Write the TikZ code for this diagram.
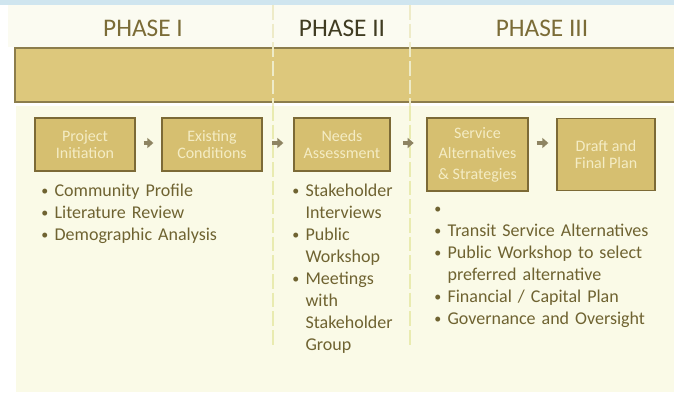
\documentclass[tikz,border=0pt]{standalone}
\usepackage{fontspec}
\setmainfont{Carlito}
\usetikzlibrary{arrows.meta,positioning}
\tikzset {>={Triangle[length=4.5pt,width=7.5pt]}}

\definecolor{topblue}{HTML}{CFE5EF}
\definecolor{headcream}{HTML}{FBFBF1}
\definecolor{panelcream}{HTML}{FAFAE7}
\definecolor{bandtan}{HTML}{DDC87C}
\definecolor{bandedge}{HTML}{8C7D4C}
\definecolor{boxtan}{HTML}{D6BF70}
\definecolor{boxedge}{HTML}{7C6A36}
\definecolor{boxtext}{HTML}{F4ECC4}
\definecolor{sepgreen}{HTML}{E9EBB0}
\definecolor{sepfaint}{HTML}{EEEBC8}
\definecolor{arrowgrey}{HTML}{8E8462}
\definecolor{listolive}{HTML}{6F6331}
\definecolor{headolive}{HTML}{7B6C37}
\definecolor{headdark}{HTML}{403C22}

\tikzset{
  phasehead/.style={font=\fontsize{19}{21}\selectfont, text=headolive},
  stagebox/.style={draw=boxedge, fill=boxtan, line width=1pt, text=boxtext,
    align=center, inner sep=2pt, font=\fontsize{12}{12.5}\selectfont},
  stagearrow/.style={->, draw=arrowgrey, fill=arrowgrey, line width=2.6pt,
    shorten <=6pt, shorten >=6pt},
  sepline/.style={draw=sepgreen, line width=2.2pt, dash pattern=on 11pt off 3pt},
  bulletlist/.style={anchor=north west, inner sep=0pt, align=left, text=listolive,
    font=\fontsize{13.5}{16.5}\selectfont}
}

% one bullet line, wrapped lines hang under the text
\newcommand{\bitem}[1]{\par\noindent\hangindent=10pt\hangafter=1%
  \strut\makebox[10pt][l]{\raisebox{0.6pt}{\fontsize{10.5}{10.5}\selectfont\textbullet}}#1}

\begin{document}
\begin{tikzpicture}[x=0.75pt,y=-0.75pt]
\useasboundingbox (0,0) rectangle (674,404);

% Backgrounds
\fill[topblue] (0,0) rectangle (674,5);
\fill[headcream] (8,5) rectangle (674,47);
\fill[panelcream] (16,106) rectangle (674,392);

% Draw band under the headers
\draw[bandedge, fill=bandtan, line width=1.2pt] (15,48) rectangle (690,102);

% Draw phase separators
\foreach \sx in {273,410} {
  \draw[sepline, draw=sepfaint, line width=1.5pt] (\sx,5) -- (\sx,106);
  \draw[sepline] (\sx,106) -- (\sx,348);
}

% Phase headers
\node[phasehead] (phase1) at (143,28) {PHASE I};
\node[phasehead, text=headdark] (phase2) at (342,28) {PHASE II};
\node[phasehead] (phase3) at (542,28) {PHASE III};

% Stage boxes
\node[stagebox, minimum width=75pt, minimum height=39.75pt] (proj) at (85,144.5) {Project\\Initiation};
\node[stagebox, minimum width=75pt, minimum height=39.75pt] (exist) at (212,144.5) {Existing\\Conditions};
\node[stagebox, minimum width=72pt, minimum height=39.75pt] (needs) at (342,144.5) {Needs\\Assessment};
\node[stagebox, minimum width=75.75pt, minimum height=54.75pt,
  font=\fontsize{12}{15.4}\selectfont] (serv) at (477.5,154.5) {Service\\Alternatives\\\& Strategies};
\node[stagebox, minimum width=73.5pt, minimum height=54pt] (draft) at (606,154.5) {Draft and\\Final Plan};

% Arrows between stages
\coordinate (arrowrow) at (0,143);
\draw[stagearrow] (proj.east |- arrowrow) -- (exist.west |- arrowrow);
\draw[stagearrow, shorten <=7pt, shorten >=7.5pt] (exist.east |- arrowrow) -- (needs.west |- arrowrow);
\draw[stagearrow, shorten <=9.5pt, shorten >=9.5pt] (needs.east |- arrowrow) -- (serv.west |- arrowrow);
\draw[stagearrow] (serv.east |- arrowrow) -- (draft.west |- arrowrow);

% Task lists
\node[bulletlist, text width=170pt] (list1) at (41,174)
  {\bitem{Community Profile}\bitem{Literature Review}\bitem{Demographic Analysis}\par};
\node[bulletlist, text width=85pt] (list2) at (292,174)
  {\bitem{Stakeholder\newline Interviews}\bitem{Public\newline Workshop}%
   \bitem{Meetings\newline with\newline Stakeholder\newline Group}\par};
\node[bulletlist, text width=180pt] (list3) at (434,192)
  {\bitem{}\bitem{Transit Service Alternatives}\bitem{Public Workshop to select\newline preferred alternative}%
   \bitem{Financial / Capital Plan}\bitem{Governance and Oversight}\par};

\end{tikzpicture}
\end{document}
